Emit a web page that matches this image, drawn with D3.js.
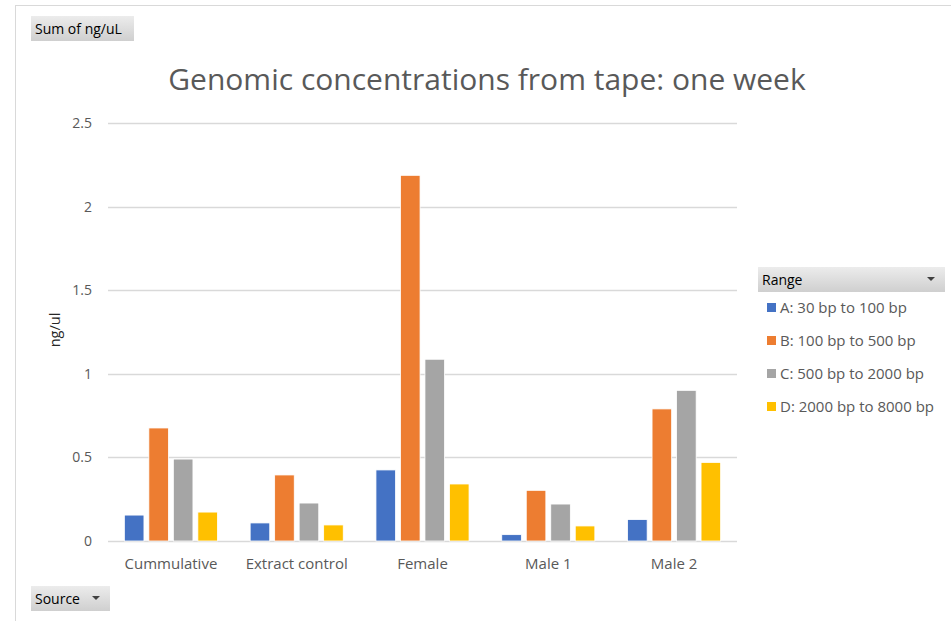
<!DOCTYPE html>
<html>
<head>
<meta charset="utf-8">
<script src="https://cdnjs.cloudflare.com/ajax/libs/d3/7.8.5/d3.min.js"></script>
<style>
  body { margin: 0; background: #fff; }
  text { font-family: "Open Sans", "Liberation Sans", sans-serif; }
</style>
</head>
<body>
<svg id="chart"></svg>
<script>
// data
var sources = ["Cummulative", "Extract control", "Female", "Male 1", "Male 2"];
var ranges = ["A: 30 bp to 100 bp", "B: 100 bp to 500 bp", "C: 500 bp to 2000 bp", "D: 2000 bp to 8000 bp"];
var rangeA = [0.155, 0.108, 0.425, 0.038, 0.128];
var rangeB = [0.676, 0.395, 2.187, 0.303, 0.790];
var rangeC = [0.490, 0.227, 1.087, 0.221, 0.901];
var rangeD = [0.173, 0.096, 0.341, 0.090, 0.470];
var yTicks = [0, 0.5, 1, 1.5, 2, 2.5];
var colors = ["#4472C4", "#ED7D31", "#A5A5A5", "#FFC000"];

var series = [rangeA, rangeB, rangeC, rangeD];

var width = 951, height = 621;
var plotLeft = 108, plotRight = 737, plotTop = 123, plotBottom = 541;
var textColor = "#595959";

var svg = d3.select("#chart")
    .attr("width", width)
    .attr("height", height);

// chart frame
svg.append("rect")
    .attr("x", 15.5).attr("y", 5.5)
    .attr("width", 940).attr("height", 630)
    .attr("fill", "none")
    .attr("stroke", "#d9d9d9");

var x0 = d3.scaleBand().domain(sources).range([plotLeft, plotRight]).paddingInner(0.26).paddingOuter(0.13);
var x1 = d3.scaleBand().domain(d3.range(ranges.length)).range([0, x0.bandwidth()]).paddingInner(0.2);
var y = d3.scaleLinear().domain([0, 2.5]).range([plotBottom, plotTop]);

// gridlines
svg.append("g")
    .selectAll("line")
    .data(yTicks)
    .join("line")
    .attr("x1", plotLeft).attr("x2", plotRight)
    .attr("y1", function(d) { return Math.round(y(d)) + 0.5; })
    .attr("y2", function(d) { return Math.round(y(d)) + 0.5; })
    .attr("stroke", "#d9d9d9")
    .attr("stroke-width", 1.3);

// y axis labels
var yAxis = d3.axisLeft(y).tickValues(yTicks).tickSize(0).tickPadding(0).tickFormat(d3.format("~g"));
var yg = svg.append("g")
    .attr("transform", "translate(" + 92 + ",0)")
    .call(yAxis);
yg.select(".domain").remove();
yg.selectAll("text")
    .style("font-size", "14px")
    .attr("fill", textColor);

// x axis labels
var xAxis = d3.axisBottom(x0).tickSize(0).tickPadding(0);
var xg = svg.append("g")
    .attr("transform", "translate(0," + 558 + ")")
    .call(xAxis);
xg.select(".domain").remove();
xg.selectAll("text")
    .style("font-size", "15px")
    .attr("fill", textColor);

// bars
var groups = svg.append("g")
    .selectAll("g")
    .data(sources)
    .join("g")
    .attr("transform", function(d) { return "translate(" + x0(d) + ",0)"; });

groups.selectAll("rect")
    .data(function(d, i) { return series.map(function(s, k) { return { k: k, v: s[i] }; }); })
    .join("rect")
    .attr("x", function(d) { return x1(d.k); })
    .attr("width", x1.bandwidth())
    .attr("y", function(d) { return y(d.v); })
    .attr("height", function(d) { return y(0) - y(d.v); })
    .attr("fill", function(d) { return colors[d.k]; })
    .attr("stroke", "#fff")
    .attr("stroke-width", 0.8);

// title
svg.append("text")
    .attr("x", 487)
    .attr("y", 90)
    .attr("text-anchor", "middle")
    .style("font-size", "30px")
    .attr("fill", textColor)
    .text("Genomic concentrations from tape: one week");

// y title
svg.append("text")
    .attr("transform", "translate(60,330) rotate(-90)")
    .attr("text-anchor", "middle")
    .style("font-size", "14.5px")
    .attr("fill", "#262626")
    .text("ng/ul");

// pivot buttons
var grad = svg.append("defs").append("linearGradient")
    .attr("id", "btn").attr("x1", 0).attr("x2", 0).attr("y1", 0).attr("y2", 1);
grad.append("stop").attr("offset", "0%").attr("stop-color", "#ececec");
grad.append("stop").attr("offset", "100%").attr("stop-color", "#cfcfcf");

function button(bx, by, bw, label, arrow) {
  svg.append("rect")
      .attr("x", bx).attr("y", by)
      .attr("width", bw).attr("height", 25)
      .attr("fill", "url(#btn)");
  svg.append("text")
      .attr("x", bx + 4).attr("y", by + 18)
      .style("font-size", "14px")
      .attr("fill", "#000")
      .text(label);
  if (arrow) {
    var ax = bx + bw - 14, ay = by + 12;
    svg.append("path")
        .attr("d", "M" + (ax - 4) + "," + (ay - 2) + "L" + (ax + 4) + "," + (ay - 2) + "L" + ax + "," + (ay + 2) + "Z")
        .attr("fill", "#404040");
  }
}
button(31, 16, 103, "Sum of ng/uL", false);
button(31, 586, 79, "Source", true);
button(758, 267, 187, "Range", true);

// legend
var legend = svg.append("g")
    .selectAll("g")
    .data(ranges)
    .join("g")
    .attr("transform", function(d, i) { return "translate(767," + (303 + i * 33) + ")"; });
legend.append("rect")
    .attr("width", 9).attr("height", 9)
    .attr("fill", function(d, i) { return colors[i]; });
legend.append("text")
    .attr("x", 13).attr("y", 10)
    .style("font-size", "15px")
    .attr("fill", textColor)
    .text(function(d) { return d; });
</script>
</body>
</html>
